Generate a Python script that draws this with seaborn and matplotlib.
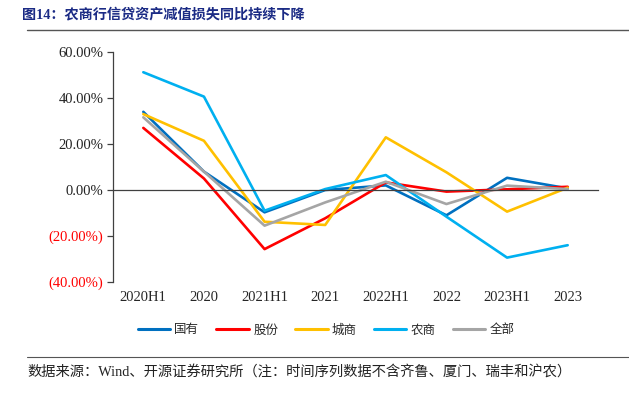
import pandas as pd
import matplotlib.pyplot as plt
import seaborn as sns
from matplotlib.lines import Line2D
from matplotlib.ticker import FixedLocator

# periods and series (YoY change in credit impairment losses, %)
periods = ['2020H1', '2020', '2021H1', '2021', '2022H1', '2022', '2023H1', '2023']
guoyou = [34.0, 8.0, -9.7, 0.0, 2.0, -11.0, 5.3, 0.7]
gufen = [27.0, 5.0, -25.7, -12.3, 3.3, -0.7, 0.3, 1.4]
chengshang = [33.0, 21.4, -13.8, -15.2, 22.9, 7.7, -9.4, 1.0]
nongshang = [51.2, 40.6, -9.0, 0.4, 6.5, -11.6, -29.4, -24.0]
quanbu = [31.6, 8.0, -15.5, -5.4, 3.6, -6.1, 1.9, 0.4]

names = ['国有', '股份', '城商', '农商', '全部']
colors = ['#0070C0', '#FF0000', '#FFC000', '#00B0F0', '#A5A5A5']
yticks = [-40, -20, 0, 20, 40, 60]

serif_cjk = ['Liberation Serif', 'Noto Sans CJK SC']

rows = []
for name, vals in zip(names, [guoyou, gufen, chengshang, nongshang, quanbu]):
    for i, v in enumerate(vals):
        rows.append({'pos': i, 'value': v, 'type': name})
df = pd.DataFrame(rows)

sns.set_style('white')
plt.rcParams['font.family'] = serif_cjk
plt.rcParams['axes.unicode_minus'] = False

fig = plt.figure(figsize=(6.29, 3.95), dpi=100)
ax = fig.add_axes([113 / 629, 1 - 282 / 395, 485 / 629, 230 / 395])

sns.lineplot(data=df, x='pos', y='value', hue='type', hue_order=names,
             palette=colors, linewidth=1.9, sort=False, ax=ax, legend=False)

ax.set_xlim(-0.5, len(periods) - 0.5)
ax.set_ylim(-40, 60)
ax.set_xlabel('')
ax.set_ylabel('')

for s in ['top', 'right']:
    ax.spines[s].set_visible(False)
ax.spines['bottom'].set_position(('data', 0))
ax.spines['bottom'].set_color('#404040')
ax.spines['bottom'].set_linewidth(0.9)
ax.spines['left'].set_color('#404040')
ax.spines['left'].set_linewidth(0.9)

ax.set_xticks(range(len(periods)))
ax.set_xticklabels(periods, fontsize=10.5)
ax.tick_params(axis='x', which='major', length=0, pad=73)
ax.xaxis.set_minor_locator(FixedLocator([i + 0.5 for i in range(len(periods))]))
ax.tick_params(axis='x', which='minor', direction='in', length=4, width=0.9, color='#404040')

ax.set_yticks(yticks)
ylabels = [f'{v:.2f}%' if v >= 0 else f'({abs(v):.2f}%)' for v in yticks]
ax.set_yticklabels(ylabels, fontsize=10.5)
ax.tick_params(axis='y', direction='out', length=4, width=0.9, color='#404040', pad=3, left=True)
for lab, v in zip(ax.get_yticklabels(), yticks):
    lab.set_color('#FF0000' if v < 0 else '#222222')

handles = [Line2D([], [], color=c, linewidth=2.2) for c in colors]
fig.legend(handles, names, loc='center', bbox_to_anchor=(326 / 629, 1 - 330 / 395),
           ncol=5, frameon=False, handlelength=2.6, handletextpad=0.35,
           columnspacing=1.35, prop={'family': 'Noto Sans CJK SC', 'size': 9})

fig.text(22 / 629, 1 - 14 / 395, '图14：农商行信贷资产减值损失同比持续下降',
         fontsize=10.2, fontweight='bold', color='#1B2B85', va='center', ha='left')
fig.add_artist(Line2D([27 / 629, 1], [1 - 30 / 395] * 2, color='#555555', linewidth=1.0))
fig.add_artist(Line2D([27 / 629, 1], [1 - 357 / 395] * 2, color='#555555', linewidth=0.8))
fig.text(27 / 629, 1 - 372 / 395,
         '数据来源：Wind、开源证券研究所（注：时间序列数据不含齐鲁、厦门、瑞丰和沪农）',
         fontsize=10.3, color='#222222', va='center', ha='left')

fig.savefig('out.png', dpi=100)
